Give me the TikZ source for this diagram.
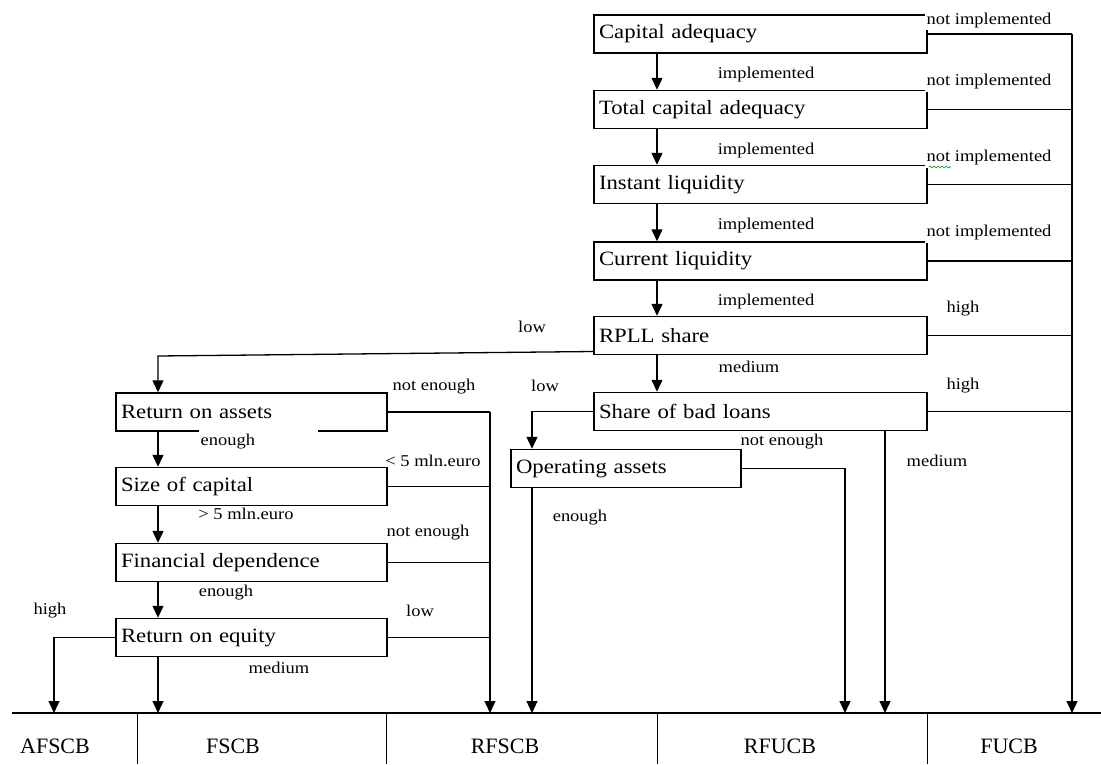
\documentclass[tikz,border=0pt]{standalone}
\usepackage{fontspec}
\setmainfont{Liberation Serif}
\newfontfamily\boxfont[FakeStretch=1.12]{Liberation Serif}
\usetikzlibrary{arrows.meta,decorations.pathmorphing}

\begin{document}
\begin{tikzpicture}[x=1pt,y=-1pt,
  box/.style={draw, line width=1.45pt, minimum height=38pt, inner xsep=5pt, inner ysep=2pt,
    align=left, font=\boxfont\fontsize{20.3}{22}\selectfont},
  wide/.style={box, text width=323pt},
  mid/.style={box, text width=261pt},
  small/.style={box, text width=220pt},
  link/.style={line width=1.3pt},
  arr/.style={line width=1.3pt, -{Triangle[width=11pt,length=12pt]}},
  lab/.style={font=\boxfont\fontsize{16.5}{18}\selectfont, inner sep=1.5pt},
  nimp/.style={lab, fill=white, anchor=west, inner ysep=3pt},
  cat/.style={font=\fontsize{22}{24}\selectfont, inner sep=1pt},
]
\useasboundingbox (0,0) rectangle (1101,764);

% columns and the base line
\coordinate (busR) at (1072,0);
\coordinate (colA) at (657,0);
\coordinate (colL) at (158,0);
\coordinate (busM) at (490,0);
\coordinate (colO) at (532,0);
\coordinate (colN) at (845,0);
\coordinate (colS) at (885,0);
\coordinate (colH) at (54,0);
\coordinate (base) at (0,713);
\coordinate (lowbend) at (158,356);

% decision boxes, main chain
\node[wide] (ca)  at (760.5,34)    {Capital adequacy};
\node[wide] (tca) at (760.5,109.5) {Total capital adequacy};
\node[wide] (il)  at (760.5,184.5) {Instant liquidity};
\node[wide] (cl)  at (760.5,261)   {Current liquidity};
\node[wide] (rp)  at (760.5,335.5) {RPLL share};
\node[wide] (sbl) at (760.5,411.5) {Share of bad loans};
\node[small] (oa) at (626,468.5)   {Operating assets};

% decision boxes, left chain
\node[mid] (roa) at (251.5,412)   {Return on assets};
\node[mid] (soc) at (251.5,486.5) {Size of capital};
\node[mid] (fd)  at (251.5,562.5) {Financial dependence};
\node[mid] (roe) at (251.5,637.5) {Return on equity};

% main chain downward arrows
\draw[arr] (ca.south -| colA)  -- (tca.north -| colA);
\draw[arr] (tca.south -| colA) -- (il.north -| colA);
\draw[arr] (il.south -| colA)  -- (cl.north -| colA);
\draw[arr] (cl.south -| colA)  -- (rp.north -| colA);
\draw[arr] (rp.south -| colA)  -- (sbl.north -| colA);

% right bus to FUCB
\foreach \n in {ca,tca,il,cl,rp,sbl}
  \draw[link] (\n.east) -- (\n.east -| busR);
\draw[arr] (ca.east -| busR) -- (busR |- base);

% share of bad loans branches
\draw[arr] (sbl.west) -- (sbl.west -| colO) -- (oa.north -| colO);
\draw[arr] (sbl.south -| colS) -- (colS |- base);
\draw[arr] (oa.south -| colO) -- (colO |- base);
\draw[arr] (oa.east) -- (oa.east -| colN) -- (colN |- base);

% RPLL share, low branch
\draw[arr] ([yshift=-16pt]rp.west) -- (lowbend) -- (roa.north -| colL);

% left chain downward arrows
\draw[arr] (roa.south -| colL) -- (soc.north -| colL);
\draw[arr] (soc.south -| colL) -- (fd.north -| colL);
\draw[arr] (fd.south -| colL)  -- (roe.north -| colL);
\draw[arr] (roe.south -| colL) -- (colL |- base);
\draw[arr] (roe.west) -- (roe.west -| colH) -- (colH |- base);

% middle bus to RFSCB
\foreach \n in {roa,soc,fd,roe}
  \draw[link] (\n.east) -- (\n.east -| busM);
\draw[arr] (roa.east -| busM) -- (busM |- base);

% branch labels
\node[nimp, inner ysep=1.5pt] at (925,21) {not implemented};
\node[nimp] at (925,82)  {not implemented};
\node[nimp] at (925,158) {not implemented};
\node[nimp] at (925,233) {not implemented};
\draw[green!55!black, line width=0.6pt, decorate,
  decoration={snake, amplitude=1pt, segment length=4pt}] (929,167) -- (951,167);
\node[lab] at (766,75)  {implemented};
\node[lab] at (766,151) {implemented};
\node[lab] at (766,226) {implemented};
\node[lab] at (766,302) {implemented};
\node[lab] at (963,309) {high};
\node[lab] at (963,386) {high};
\node[lab] at (749,367) {medium};
\node[lab] at (532,327) {low};
\node[lab] at (545,386) {low};
\node[lab] at (782,442) {not enough};
\node[lab] at (937,461) {medium};
\node[lab] at (580,518) {enough};

\node[lab] at (434,387) {not enough};
\node[lab, fill=white, anchor=west, text width=116pt, minimum height=24pt, align=left] at (199,442) {enough};
\node[lab] at (433,461) {< 5 mln.euro};
\node[lab] at (246,514) {> 5 mln.euro};
\node[lab] at (428,533) {not enough};
\node[lab] at (226,593) {enough};
\node[lab] at (50,611)  {high};
\node[lab] at (420,611) {low};
\node[lab] at (279,668) {medium};

% class scale at the bottom
\draw[line width=1.5pt] (12,713) -- (1101,713);
\foreach \x in {137,386,657,927}
  \draw[line width=1pt] (\x,713) -- (\x,764);
\node[cat] (afscb) at (55,746)   {AFSCB};
\node[cat] (fscb)  at (233,746)  {FSCB};
\node[cat] (rfscb) at (505,746)  {RFSCB};
\node[cat] (rfucb) at (780,746)  {RFUCB};
\node[cat] (fucb)  at (1009,746) {FUCB};
\end{tikzpicture}
\end{document}
